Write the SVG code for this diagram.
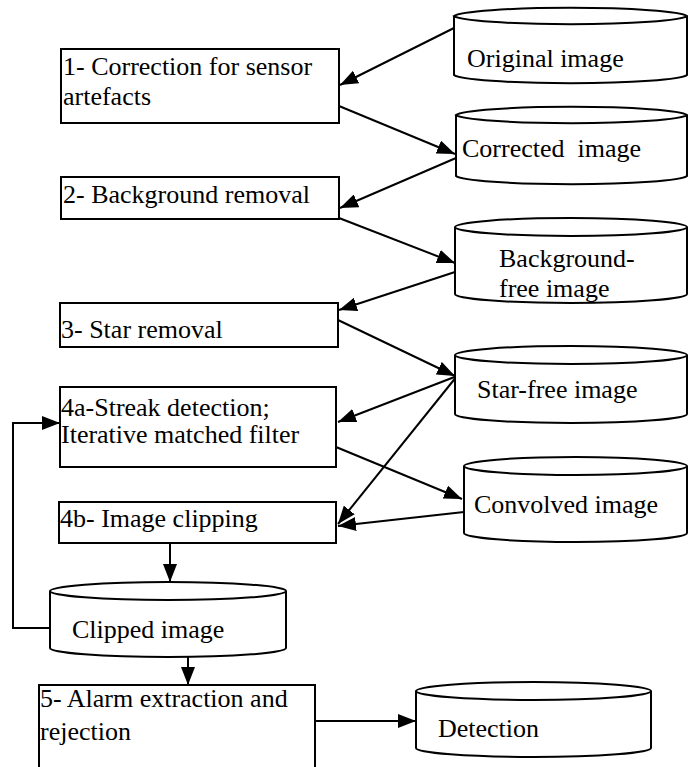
<svg xmlns="http://www.w3.org/2000/svg" width="688" height="767" viewBox="0 0 688 767">
<style>
.box{fill:#fff;stroke:#000;stroke-width:2}
.cyl{fill:#fff;stroke:#000;stroke-width:2}
.t{font-family:'Liberation Serif','Times New Roman',serif;font-size:26px;fill:#000}
.c{fill:none;stroke:#000;stroke-width:2}
</style>
<defs>
<marker id="arr" viewBox="0 0 18 14" refX="18" refY="7" markerWidth="18" markerHeight="14" orient="auto" markerUnits="userSpaceOnUse">
<path d="M0,0 L18,7 L0,14 z" fill="#000"/>
</marker>
</defs>
<rect width="688" height="767" fill="#fff"/>
<g id="connectors">
<line class="c" x1="454" y1="28" x2="340" y2="85" marker-end="url(#arr)"/>
<line class="c" x1="339" y1="106" x2="455" y2="154" marker-end="url(#arr)"/>
<line class="c" x1="456" y1="158" x2="340" y2="208" marker-end="url(#arr)"/>
<line class="c" x1="339" y1="218" x2="455" y2="263" marker-end="url(#arr)"/>
<line class="c" x1="455" y1="272" x2="339" y2="310" marker-end="url(#arr)"/>
<line class="c" x1="338" y1="320" x2="455" y2="376" marker-end="url(#arr)"/>
<line class="c" x1="457" y1="376" x2="338" y2="422" marker-end="url(#arr)"/>
<line class="c" x1="336" y1="447" x2="462" y2="499" marker-end="url(#arr)"/>
<line class="c" x1="457" y1="376" x2="338" y2="524" marker-end="url(#arr)"/>
<line class="c" x1="464" y1="512" x2="338" y2="526" marker-end="url(#arr)"/>
<line class="c" x1="170" y1="543" x2="170" y2="582" marker-end="url(#arr)"/>
<line class="c" x1="188" y1="657" x2="188" y2="685" marker-end="url(#arr)"/>
<polyline class="c" points="50,628 13,628 13,423 60,423" marker-end="url(#arr)"/>
<line class="c" x1="315" y1="721" x2="416" y2="721" marker-end="url(#arr)"/>
</g>
<g id="box1">
<rect class="box" x="61" y="49" width="278" height="74"/>
<text class="t" x="63" y="75">1- Correction for sensor</text>
<text class="t" x="63" y="105">artefacts</text>
</g>
<g id="box2">
<rect class="box" x="61" y="177" width="278" height="42"/>
<text class="t" x="63" y="203">2- Background removal</text>
</g>
<g id="box3">
<rect class="box" x="60" y="303" width="278" height="44"/>
<text class="t" x="61" y="338">3- Star removal</text>
</g>
<g id="box4a">
<rect class="box" x="60" y="387" width="276" height="80"/>
<text class="t" x="61" y="416">4a-Streak detection;</text>
<text class="t" x="61" y="443">Iterative matched filter</text>
</g>
<g id="box4b">
<rect class="box" x="59" y="502" width="277" height="41"/>
<text class="t" x="60" y="527">4b- Image clipping</text>
</g>
<g id="box5">
<rect class="box" x="39" y="685" width="276" height="90"/>
<text class="t" x="40" y="707">5- Alarm extraction and</text>
<text class="t" x="40" y="740">rejection</text>
</g>
<g id="original">
<path class="cyl" d="M454,16 L454,75 A117,9 0 0 0 687,75 L687,16 A117,9 0 0 0 454,16 A117,9 0 0 0 687,16"/>
<text class="t" x="467" y="67">Original image</text>
</g>
<g id="corrected">
<path class="cyl" d="M456,115 L456,176 A116,9 0 0 0 687,176 L687,115 A116,9 0 0 0 456,115 A116,9 0 0 0 687,115"/>
<text class="t" x="462" y="157" xml:space="preserve">Corrected  image</text>
</g>
<g id="background-free">
<path class="cyl" d="M455,227 L455,294 A116,9 0 0 0 687,294 L687,227 A116,9 0 0 0 455,227 A116,9 0 0 0 687,227"/>
<text class="t" x="499" y="267">Background-</text>
<text class="t" x="499" y="297">free image</text>
</g>
<g id="star-free">
<path class="cyl" d="M455,355 L455,414 A116,9 0 0 0 687,414 L687,355 A116,9 0 0 0 455,355 A116,9 0 0 0 687,355"/>
<text class="t" x="477" y="398">Star-free image</text>
</g>
<g id="convolved">
<path class="cyl" d="M464,466 L464,533 A111.5,9 0 0 0 687,533 L687,466 A111.5,9 0 0 0 464,466 A111.5,9 0 0 0 687,466"/>
<text class="t" x="474" y="513">Convolved image</text>
</g>
<g id="clipped">
<path class="cyl" d="M50,591 L50,648 A118,9 0 0 0 286,648 L286,591 A118,9 0 0 0 50,591 A118,9 0 0 0 286,591"/>
<text class="t" x="72" y="638">Clipped image</text>
</g>
<g id="detection">
<path class="cyl" d="M416,691 L416,748 A117.5,9 0 0 0 651,748 L651,691 A117.5,9 0 0 0 416,691 A117.5,9 0 0 0 651,691"/>
<text class="t" x="438" y="737">Detection</text>
</g>
</svg>
